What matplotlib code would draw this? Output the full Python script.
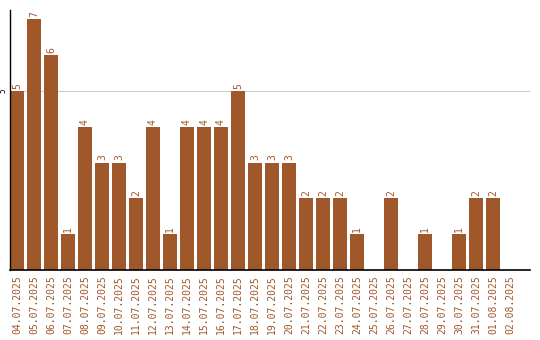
import matplotlib
matplotlib.use("Agg")
import matplotlib.pyplot as plt

dates = ["04.07.2025", "05.07.2025", "06.07.2025", "07.07.2025", "08.07.2025",
         "09.07.2025", "10.07.2025", "11.07.2025", "12.07.2025", "13.07.2025",
         "14.07.2025", "15.07.2025", "16.07.2025", "17.07.2025", "18.07.2025",
         "19.07.2025", "20.07.2025", "21.07.2025", "22.07.2025", "23.07.2025",
         "24.07.2025", "25.07.2025", "26.07.2025", "27.07.2025", "28.07.2025",
         "29.07.2025", "30.07.2025", "31.07.2025", "01.08.2025", "02.08.2025"]
values = [5, 7, 6, 1, 4, 3, 3, 2, 4, 1, 4, 4, 4, 5, 3, 3, 3, 2, 2, 2,
          1, 0, 2, 0, 1, 0, 1, 2, 2, 0]

color = "#A0572A"
fig = plt.figure(figsize=(5.4, 3.4), dpi=100)
ax = fig.add_axes([10/540, 70/340, 520/540, 260/340])
x = list(range(len(dates)))
bw = 14/17
ax.bar(x, values, width=bw, color=color, zorder=2)
for xi, v in zip(x, values):
    if v > 0:
        ax.annotate(str(v), (xi, v), xytext=(0, 1.5), textcoords="offset points",
                    rotation=90, ha="center", va="bottom", color=color,
                    fontsize=7, family="DejaVu Sans Mono")
ax.set_xlim(-bw/2, -bw/2 + 520/17)
ax.set_ylim(0, 7.26)
ax.set_yticks([5])
ax.set_yticklabels(["5"], rotation=90, va="center", fontsize=5.5, family="DejaVu Sans Mono")
ax.tick_params(axis="y", length=0, pad=1.5)
ax.grid(axis="y", color="#cccccc", linewidth=0.8, zorder=0)
ax.set_xticks(x)
ax.set_xticklabels(dates, rotation=90, color=color, fontsize=7, family="DejaVu Sans Mono")
ax.tick_params(axis="x", length=0, pad=4)
for s in ["top", "right"]:
    ax.spines[s].set_visible(False)
ax.spines["left"].set_color("black")
ax.spines["bottom"].set_color("black")
ax.spines["left"].set_linewidth(1)
ax.spines["bottom"].set_linewidth(1.2)
fig.savefig("out.png", dpi=100)
